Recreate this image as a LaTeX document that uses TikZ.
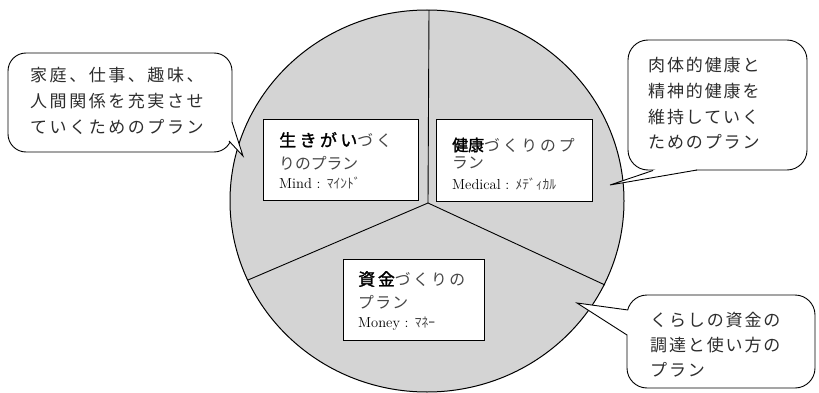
\documentclass[tikz,border=0pt]{standalone}
\usepackage{fontspec}
\newfontfamily\jpCall[LetterSpace=11]{Noto Sans CJK JP}
\newfontfamily\jpCallw[LetterSpace=15]{Noto Sans CJK JP}
\newfontfamily\jpR{Noto Sans CJK JP}
\newfontfamily\jpRa[LetterSpace=18]{Noto Sans CJK JP}
\newfontfamily\jpRb[LetterSpace=15]{Noto Sans CJK JP}
\newfontfamily\jpRc[LetterSpace=8]{Noto Sans CJK JP}
\newfontfamily\jpB[FakeBold=1.6]{Noto Sans CJK JP}
\newfontfamily\jpBa[FakeBold=1.6,LetterSpace=20]{Noto Sans CJK JP}
\newfontfamily\jpBb[FakeBold=1.6,LetterSpace=16]{Noto Sans CJK JP}
\definecolor{pie}{RGB}{212,212,212}
\definecolor{ctxt}{RGB}{45,45,45}
\definecolor{btxt}{RGB}{70,70,70}
\newcommand{\bigB}{\fontsize{17}{20}\selectfont}
\newcommand{\midR}{\fontsize{15.8}{20}\selectfont}
\newcommand{\latin}{\rmfamily\fontsize{14.5}{16}\selectfont}
\newcommand{\hk}{\jpR\fontsize{13.5}{16}\selectfont}
\begin{document}
\begin{tikzpicture}[x=1pt,y=-1pt,
  outline/.style={draw=black,line width=1pt},
  pbox/.style={draw=black,fill=white,line width=0.9pt,inner sep=0pt,anchor=north west},
  bubble/.style={draw=black,fill=white,line width=0.9pt},
  ctext/.style={anchor=base west,inner sep=0pt,text=ctxt,font=\jpCall\fontsize{17}{20}\selectfont},
  btext/.style={anchor=base west,inner sep=0pt,text=btxt}]
\useasboundingbox (0,0) rectangle (819,393);

% pie
\filldraw[fill=pie,outline] (427,201) ellipse [x radius=197pt, y radius=191pt];
\coordinate (O) at (428,203);
\coordinate (T) at (429,10);
\coordinate (L) at (248,280);
\coordinate (R) at (605,285);
\draw[line width=0.9pt] (O) -- (T) (O) -- (L) (O) -- (R);

% inner boxes
\node[pbox,minimum width=155pt,minimum height=81pt] (box1) at (263,119) {};
\node[pbox,minimum width=156pt,minimum height=82pt] (box2) at (436,119) {};
\node[pbox,minimum width=141pt,minimum height=81pt] (box3) at (343,259) {};

\node[btext] (b1a) at (279,146.5) {{\jpBa\bigB\color{black}生きがい}{\jpRa\midR づく}};
\node[btext] (b1b) at (279,169) {\jpR\midR りのプラン};
\node[btext] (b1c) at (279,188) {{\latin\color{black}Mind : }\hk ﾏｲﾝﾄﾞ};

\node[btext] (b2a) at (452,151) {{\jpB\fontsize{16}{20}\selectfont\color{black}健康}{\jpRa\midR づくりのプ}};
\node[btext] (b2b) at (452,168.5) {\jpR\midR ラン};
\node[btext] (b2c) at (452,189) {{\latin\color{black}Medical : }\hk ﾒﾃﾞｨｶﾙ};

\node[btext] (b3a) at (358,285.5) {{\jpBb\bigB\color{black}資金}{\jpRb\midR づくりの}};
\node[btext] (b3b) at (358,308) {\jpRc\midR プラン};
\node[btext] (b3c) at (358,327) {{\latin\color{black}Money : }\hk ﾏﾈｰ};

% bubble 1
\draw[bubble,rounded corners=18pt] (8,53) rectangle (232,152);
\coordinate (t1) at (243,156);
\coordinate (t1a) at (232,122);
\coordinate (t1b) at (229,141);
\fill[white] (t1a) -- (t1) -- (t1b) -- (220,132) -- cycle;
\draw[line width=0.9pt] (t1a) -- (t1) -- (t1b);
\node[ctext,font=\jpCallw\fontsize{17}{20}\selectfont] (c1a) at (30,82) {家庭、仕事、趣味、};
\node[ctext,font=\jpCallw\fontsize{17}{20}\selectfont] (c1b) at (30,108) {人間関係を充実させ};
\node[ctext,font=\jpCallw\fontsize{17}{20}\selectfont] (c1c) at (30,134) {ていくためのプラン};

% bubble 2
\draw[bubble,rounded corners=20pt] (628,40) rectangle (807,170);
\coordinate (t2) at (610,185);
\coordinate (t2a) at (653,170.5);
\coordinate (t2b) at (697,170);
\fill[white] (t2a) -- (t2) -- (t2b) -- (675,160) -- cycle;
\draw[line width=0.9pt] (t2a) -- (t2) -- (t2b);
\node[ctext] (c2a) at (648,72) {肉体的健康と};
\node[ctext] (c2b) at (648,98) {精神的健康を};
\node[ctext] (c2c) at (648,123.5) {維持していく};
\node[ctext] (c2d) at (648,149) {ためのプラン};

% bubble 3
\draw[bubble,rounded corners=20pt] (627,295) rectangle (815,388);
\coordinate (t3) at (577,303);
\coordinate (t3a) at (628,310);
\coordinate (t3b) at (627,335);
\fill[white] (t3a) -- (t3) -- (t3b) -- (640,322) -- cycle;
\draw[line width=0.9pt] (t3a) -- (t3) -- (t3b);
\node[ctext] (c3a) at (650,326) {くらしの資金の};
\node[ctext] (c3b) at (650,351) {調達と使い方の};
\node[ctext] (c3c) at (650,376) {プラン};
\end{tikzpicture}
\end{document}
